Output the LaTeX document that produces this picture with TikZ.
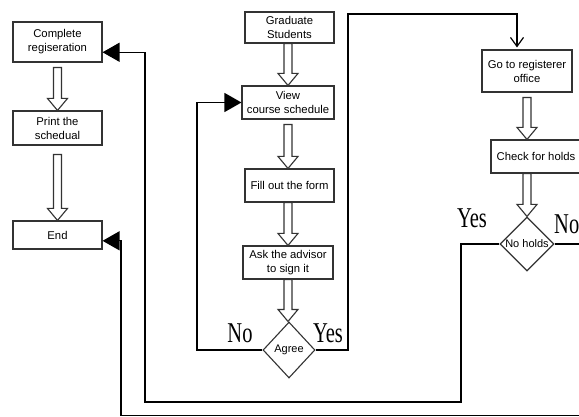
\documentclass[tikz,border=0pt]{standalone}
\usepackage{fontspec}
\usepackage{graphicx}
\setmainfont{Liberation Sans}
\newfontfamily\tnr{Liberation Serif}
\usetikzlibrary{shapes.geometric,arrows.meta,calc}
\tikzset{
  box/.style={draw=black!80, line width=1.1pt, rectangle, inner sep=0pt, align=center,
    font=\fontsize{11.3}{14}\selectfont},
  dia/.style={draw=black!80, line width=1.1pt, diamond, inner sep=0pt,
    label={[font=\fontsize{11}{12}\selectfont]center:#1}},
  harrow/.style={draw=black!80, line width=1.1pt, fill=white},
  conn/.style={draw=black, line width=1.3pt},
  fillarrow/.style={conn, -{Triangle[length=17pt,width=19pt]}},
  openarrow/.style={conn, -{Straight Barb[length=9pt,width=13pt,line width=1.2pt]}},
  lab/.style={inner sep=0pt, font=\tnr\fontsize{20.5}{20}\selectfont}
}
\newcommand\hollow[4]{% from, to, x-node, gap
  \path[harrow] let \p1=(#1.south), \p2=(#2.north), \p3=(#3) in
    (\x3-4pt,\y1-#4pt) -- (\x3-4pt,\y2+12pt) -- (\x3-10pt,\y2+12pt) -- (\x3,\y2)
    -- (\x3+10pt,\y2+12pt) -- (\x3+4pt,\y2+12pt) -- (\x3+4pt,\y1-#4pt) -- cycle;}
\begin{document}
\begin{tikzpicture}[x=1pt,y=-1pt]
\useasboundingbox (0,0) rectangle (579,417);
\fill[white] (0,0) rectangle (579,417);
\clip (0,0) rectangle (579,417);
% left column
\node[box, minimum width=89pt, minimum height=40pt] (complete) at (57.5,42) {Complete\\regiseration};
\node[box, minimum width=89pt, minimum height=34pt] (print) at (57.5,128) {Print the\\schedual};
\node[box, minimum width=89pt, minimum height=28pt] (end) at (57.5,235) {End};
% middle column
\node[box, minimum width=89pt, minimum height=31pt] (grad) at (289.5,27.5) {Graduate\\Students};
\node[box, minimum width=92pt, minimum height=33pt] (view) at (288,102.5) {View\\course schedule};
\node[box, minimum width=89pt, minimum height=33pt] (fill) at (289.5,185.5) {Fill out the form};
\node[box, minimum width=90pt, minimum height=33pt] (ask) at (288,262.5) {Ask the advisor\\to sign it};
\node[dia=Agree, minimum width=52pt, minimum height=56pt] (agree) at (289,350) {};
% right column
\node[box, minimum width=90pt, minimum height=42pt] (go) at (527,71) {Go to registerer\\office};
\node[box, minimum width=90pt, minimum height=33pt] (check) at (536,156.5) {Check for holds};
\node[dia=No holds, minimum width=54pt, minimum height=54pt] (noholds) at (527,244) {};
% hollow arrows
\coordinate (gx) at (288,0);
\coordinate (rx) at (527,0);
\hollow{complete}{print}{complete}{5}
\hollow{print}{end}{print}{9}
\hollow{grad}{view}{gx}{0}
\hollow{view}{fill}{gx}{5}
\hollow{fill}{ask}{gx}{0}
\hollow{ask}{agree}{gx}{0}
\hollow{go}{check}{rx}{5}
\hollow{check}{noholds}{rx}{0}
% labels
\node[lab] (ano) at (240,333) {\scalebox{1}[1.4]{No}};
\node[lab] (ayes) at (328,333) {\scalebox{1}[1.4]{Yes}};
\node[lab] (hyes) at (472,218) {\scalebox{1}[1.4]{Yes}};
\node[lab, anchor=west] (hno) at (554,224) {\scalebox{1}[1.4]{No}};
% connectors
\coordinate (n1) at (197,300);
\draw[fillarrow] (agree.west) -| (n1) |- (view.west);
\coordinate (y1) at (348,14);
\coordinate (y2) at (517,14);
\draw[openarrow, shorten >=2pt] (agree.east) -| (y1) -- (y2) -- (y2 |- go.north);
\coordinate (cin) at ($(complete.south east)!0.25!(complete.north east)$);
\coordinate (c1) at (461,402);
\coordinate (c2) at (145,402);
\draw[fillarrow] (noholds.west) -| (c1) -- (c2) |- (cin);
\coordinate (ein) at ($(end.south east)!0.3!(end.north east)$);
\coordinate (d1) at (584,415.5);
\coordinate (d2) at (121,415.5);
\draw[fillarrow] (noholds.east) -| (d1) -- (d2) |- (ein);
\end{tikzpicture}
\end{document}
